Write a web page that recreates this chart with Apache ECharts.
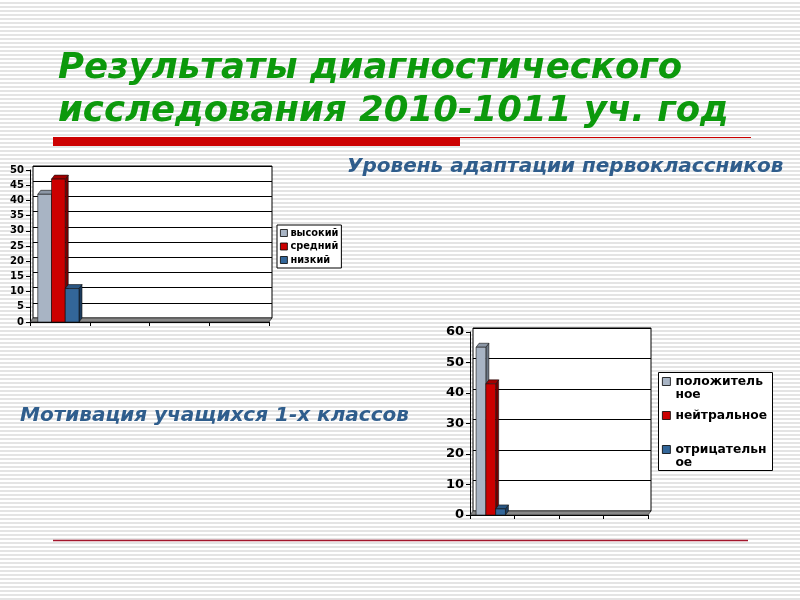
<!DOCTYPE html>
<html>
<head>
<meta charset="utf-8">
<script src="https://cdn.jsdelivr.net/npm/echarts@6/dist/echarts.min.js"></script>
<style>
  html, body { margin: 0; padding: 0; }
  body {
    width: 800px; height: 600px; overflow: hidden;
    background: repeating-linear-gradient(to bottom, #ffffff 0px, #ffffff 2px, #e4e4e4 2px, #e4e4e4 4px);
  }
  #chart { width: 800px; height: 600px; }
</style>
</head>
<body>
<div id="chart"></div>
<script>
// ---------- data ----------
const titleText = 'Результаты диагностического\nисследования 2010-1011 уч. год';
const adaptTitle = 'Уровень адаптации первоклассников';
const motivTitle = 'Мотивация учащихся 1-х классов';

const adaptCategories = ['', '', '', ''];
const adaptNames = ['высокий', 'средний', 'низкий'];
const adaptHigh = [42];
const adaptMid = [47];
const adaptLow = [11];
const adaptTicks = { min: 0, max: 50, interval: 5 };

const motivCategories = ['', '', '', ''];
const motivNames = ['положительное', 'нейтральное', 'отрицательное'];
const motivLegendLabels = ['\nположитель\nное', 'нейтральное', '\nотрицательн\nое'];
const motivPos = [55];
const motivNeu = [43];
const motivNeg = [2];
const motivTicks = { min: 0, max: 60, interval: 10 };

// ---------- styles ----------
const FONT = 'DejaVu Sans';
const palette = [
  { front: '#a8b4c4', top: '#8c97a6', side: '#6e7886' },
  { front: '#cc0000', top: '#a30000', side: '#780000' },
  { front: '#336699', top: '#2a5682', side: '#1c3c5e' }
];

function toData(arr) { return arr.map(function (v, i) { return [i, v]; }); }

function bar3d(idx, n, ratio, dx, dy) {
  const c = palette[idx];
  return function (params, api) {
    const ci = api.value(0), v = api.value(1);
    const top = api.coord([ci, v]);
    const base = api.coord([ci, 0]);
    const band = api.size([1, 0])[0];
    const bw = band * ratio;
    const left = top[0] - (n * bw + dx) / 2 + idx * bw;
    const right = left + bw;
    const yt = top[1], yb = base[1];
    const ln = { stroke: '#111', lineWidth: 0.6 };
    return {
      type: 'group',
      children: [
        { type: 'polygon', shape: { points: [[right, yb], [right + dx, yb - dy], [right + dx, yt - dy], [right, yt]] },
          style: Object.assign({ fill: c.side }, ln) },
        { type: 'polygon', shape: { points: [[left, yt], [right, yt], [right + dx, yt - dy], [left + dx, yt - dy]] },
          style: Object.assign({ fill: c.top }, ln) },
        { type: 'rect', shape: { x: left, y: yt, width: bw, height: yb - yt },
          style: Object.assign({ fill: c.front }, ln) }
      ]
    };
  };
}

function floor(dx, dy) {
  return function (params, api) {
    const cs = params.coordSys;
    const yb = cs.y + cs.height;
    return {
      type: 'polygon',
      shape: { points: [[cs.x, yb], [cs.x + cs.width, yb], [cs.x + cs.width + dx, yb - dy], [cs.x + dx, yb - dy]] },
      style: { fill: '#888888', stroke: '#111', lineWidth: 0.6 }
    };
  };
}

const D1 = [3, 4], D2 = [3, 4];

function backY(t, gi) {
  return { gridIndex: gi, type: 'value', min: t.min, max: t.max, interval: t.interval,
    axisLine: { show: false }, axisTick: { show: false }, axisLabel: { show: false },
    splitLine: { show: true, lineStyle: { color: '#000', width: 1 } } };
}
function frontY(t, gi, fs) {
  return { gridIndex: gi, type: 'value', min: t.min, max: t.max, interval: t.interval,
    axisLine: { show: true, lineStyle: { color: '#000', width: 1 } },
    axisTick: { show: true, length: 4, lineStyle: { color: '#000' } },
    axisLabel: { show: true, margin: 6, color: '#000', fontFamily: FONT, fontWeight: 'bold', fontSize: fs },
    splitLine: { show: false } };
}
function backX(cats, gi) {
  return { gridIndex: gi, type: 'category', data: cats, show: false };
}
function frontX(cats, gi) {
  return { gridIndex: gi, type: 'category', data: cats,
    axisLine: { show: true, lineStyle: { color: '#000', width: 1 } },
    axisTick: { show: true, length: 4, lineStyle: { color: '#000' } },
    axisLabel: { show: false }, splitLine: { show: false } };
}

const adaptVals = [adaptHigh, adaptMid, adaptLow];
const motivVals = [motivPos, motivNeu, motivNeg];

const series = [];
series.push({ type: 'custom', name: 'floor1', xAxisIndex: 1, yAxisIndex: 1, data: [[0, 0]],
  renderItem: floor(D1[0], D1[1]), z: 1, silent: true });
series.push({ type: 'custom', name: 'floor2', xAxisIndex: 3, yAxisIndex: 3, data: [[0, 0]],
  renderItem: floor(D2[0], D2[1]), z: 1, silent: true });
adaptNames.forEach(function (nm, i) {
  series.push({ type: 'custom', name: nm, xAxisIndex: 1, yAxisIndex: 1, data: toData(adaptVals[i]),
    itemStyle: { color: palette[i].front }, renderItem: bar3d(i, 3, 0.23, D1[0], D1[1]), z: 2 });
});
motivNames.forEach(function (nm, i) {
  series.push({ type: 'custom', name: nm, xAxisIndex: 3, yAxisIndex: 3, data: toData(motivVals[i]),
    itemStyle: { color: palette[i].front }, renderItem: bar3d(i, 3, 0.22, D2[0], D2[1]), z: 2 });
});

const chart = echarts.init(document.getElementById('chart'), null, { renderer: 'canvas' });
chart.setOption({
  backgroundColor: 'transparent',
  animation: false,
  title: [
    { text: titleText, left: 53, top: 42,
      textStyle: { fontFamily: FONT, fontWeight: 'bold', fontStyle: 'italic', fontSize: 35.5, lineHeight: 43, color: '#0c990c' } },
    { text: adaptTitle, left: 342, top: 152,
      textStyle: { fontFamily: FONT, fontWeight: 'bold', fontStyle: 'italic', fontSize: 20, color: '#2f5d8c' } },
    { text: motivTitle, left: 15, top: 401,
      textStyle: { fontFamily: FONT, fontWeight: 'bold', fontStyle: 'italic', fontSize: 20, color: '#2f5d8c' } }
  ],
  grid: [
    { left: 33, top: 166, width: 239, height: 152, show: true, backgroundColor: '#fff', borderColor: '#000', borderWidth: 1, z: 0 },
    { left: 30, top: 170, width: 239, height: 152 },
    { left: 473, top: 328, width: 178, height: 183, show: true, backgroundColor: '#fff', borderColor: '#000', borderWidth: 1, z: 0 },
    { left: 470, top: 332, width: 178, height: 183 }
  ],
  xAxis: [backX(adaptCategories, 0), frontX(adaptCategories, 1), backX(motivCategories, 2), frontX(motivCategories, 3)],
  yAxis: [backY(adaptTicks, 0), frontY(adaptTicks, 1, 10), backY(motivTicks, 2), frontY(motivTicks, 3, 13)],
  legend: [
    { data: adaptNames, orient: 'vertical', left: 277, top: 225, padding: [2, 3, 2, 3],
      backgroundColor: '#fff', borderColor: '#000', borderWidth: 1, borderRadius: 0,
      icon: 'rect', itemWidth: 7, itemHeight: 7, itemGap: 1.5,
      itemStyle: { borderColor: '#000', borderWidth: 0.8 },
      textStyle: { fontFamily: FONT, fontWeight: 'bold', fontSize: 9.8, lineHeight: 12, color: '#000', padding: [0, 0, 0, -2] } },
    { data: motivNames, orient: 'vertical', left: 662, top: 362, padding: 0,
      icon: 'rect', itemWidth: 8, itemHeight: 8, itemGap: 8,
      itemStyle: { borderColor: '#000', borderWidth: 0.8 },
      formatter: function (name) { return motivLegendLabels[motivNames.indexOf(name)]; },
      textStyle: { fontFamily: FONT, fontWeight: 'bold', fontSize: 12.3, lineHeight: 13, color: '#000' } }
  ],
  graphic: [
    { type: 'rect', shape: { x: 53, y: 137, width: 407, height: 9 }, style: { fill: '#cc0000' }, silent: true },
    { type: 'line', shape: { x1: 460, y1: 137.5, x2: 751, y2: 137.5 }, style: { stroke: '#cc0000', lineWidth: 1 }, silent: true },
    { type: 'line', shape: { x1: 53, y1: 540.5, x2: 748, y2: 540.5 }, style: { stroke: '#a3162c', lineWidth: 1.3 }, silent: true },
    { type: 'rect', shape: { x: 658.5, y: 372.5, width: 114, height: 98 }, style: { fill: '#fff', stroke: '#000', lineWidth: 1 }, z: -1, silent: true }
  ],
  series: series
});
</script>
</body>
</html>
